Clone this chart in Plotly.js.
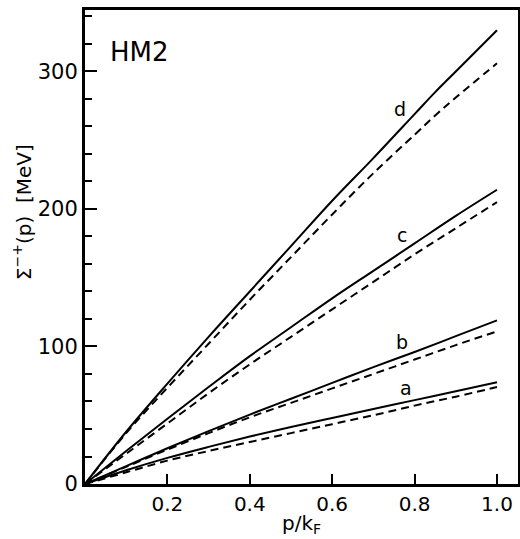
<!DOCTYPE html>
<html>
<head>
<meta charset="utf-8">
<script src="https://cdn.plot.ly/plotly-3.0.1.min.js"></script>
<style>html,body{margin:0;padding:0;background:#fff;}#chart{width:520px;height:539px;}</style>
</head>
<body>
<div id="chart"></div>
<script>
// p / k_F sample points
var pA = [0, 0.1, 0.2, 0.3, 0.4, 0.5, 0.6, 0.7, 0.8, 0.9, 1.0];
var pD = [0, 0.1, 0.2, 0.3, 0.4, 0.5, 0.6, 0.7, 0.8, 0.85, 0.9, 1.0];

// Sigma^{-+}(p) in MeV, solid and dashed curves
var aSolid  = [0, 10, 19, 27, 34.5, 41.5, 48, 54.5, 61, 67.5, 74];
var aDashed = [0, 8.5, 17, 24, 30.5, 37, 43.5, 50, 57, 63.5, 70.5];
var bSolid  = [0, 13, 26, 38.5, 50.5, 62, 73.5, 85, 96, 107.5, 119];
var bDashed = [0, 12.5, 25, 37, 48.5, 59, 69.5, 80, 90.5, 101, 111];
var cSolid  = [0, 24, 47.5, 70.5, 93, 114, 135, 155, 175, 195, 214];
var cDashed = [0, 22, 44, 66, 87, 107, 127, 147, 167, 186, 205];
var dSolid  = [0, 38, 73, 107, 140, 173, 206, 237, 269, 285, 300, 330];
var dDashed = [0, 37, 70, 102, 134, 165, 196, 226, 254, 268, 281, 306];

// curve labels
var labelText = ['a', 'b', 'c', 'd'];
var labelX = [0.78, 0.77, 0.77, 0.765];
var labelY = [70, 103, 181, 273];

var yMajor = [0, 100, 200, 300];
var yMajorText = ['0', '100', '200', '300'];
var xMajor = [0.2, 0.4, 0.6, 0.8, 1.0];
var xMajorText = ['0.2', '0.4', '0.6', '0.8', '1.0'];

var FONT = 'DejaVu Sans, Liberation Sans, sans-serif';

function solid(x, y) {
  return {x: x, y: y, mode: 'lines', type: 'scatter', showlegend: false,
          line: {color: '#000', width: 2, shape: 'spline', smoothing: 1}, hoverinfo: 'skip'};
}
function dashed(x, y) {
  return {x: x, y: y, mode: 'lines', type: 'scatter', showlegend: false,
          line: {color: '#000', width: 2, dash: '8px,5px', shape: 'spline', smoothing: 1}, hoverinfo: 'skip'};
}

var data = [
  solid(pA, aSolid), dashed(pA, aDashed),
  solid(pA, bSolid), dashed(pA, bDashed),
  solid(pA, cSolid), dashed(pA, cDashed),
  solid(pD, dSolid), dashed(pD, dDashed)
];

var annotations = [];
for (var i = 0; i < labelText.length; i++) {
  annotations.push({x: labelX[i], y: labelY[i], xref: 'x', yref: 'y', text: labelText[i],
    showarrow: false, font: {family: FONT, size: 19, color: '#000'}});
}
annotations.push({x: 0.133, y: 314, xref: 'x', yref: 'y', text: 'HM2', showarrow: false,
  font: {family: FONT, size: 26, color: '#000'}});
annotations.push({x: -0.145, y: 0.574, xref: 'paper', yref: 'paper', textangle: -90,
  text: 'Σ<sup>−+</sup>(p)  [MeV]', showarrow: false, xanchor: 'center', yanchor: 'middle',
  font: {family: FONT, size: 20, color: '#000'}});
annotations.push({x: 0.5, y: -0.084, xref: 'paper', yref: 'paper',
  text: 'p/k<sub>F</sub>', showarrow: false, xanchor: 'center', yanchor: 'middle',
  font: {family: FONT, size: 20, color: '#000'}});

var layout = {
  width: 520, height: 539,
  margin: {l: 85, r: 2, t: 10, b: 55, pad: 0},
  paper_bgcolor: '#fff', plot_bgcolor: '#fff',
  font: {family: FONT, size: 20, color: '#000'},
  showlegend: false,
  xaxis: {
    range: [0, 1.051], showgrid: false, zeroline: false,
    showline: true, linewidth: 3, linecolor: '#000', mirror: true,
    ticks: 'inside', ticklen: 10, tickwidth: 2, tickcolor: '#000',
    tickvals: xMajor, ticktext: xMajorText,
    tickfont: {family: FONT, size: 20, color: '#000'}
  },
  yaxis: {
    range: [0, 344.7], showgrid: false, zeroline: false,
    showline: true, linewidth: 3, linecolor: '#000', mirror: true,
    ticks: 'inside', ticklen: 12, tickwidth: 2, tickcolor: '#000',
    tickvals: yMajor, ticktext: yMajorText,
    tickfont: {family: FONT, size: 21, color: '#000'},
    minor: {dtick: 20, tick0: 0, ticks: 'inside', ticklen: 7, tickwidth: 2, tickcolor: '#000', showgrid: false}
  },
  annotations: annotations
};

Plotly.newPlot('chart', data, layout, {displayModeBar: false, staticPlot: true});
</script>
</body>
</html>
